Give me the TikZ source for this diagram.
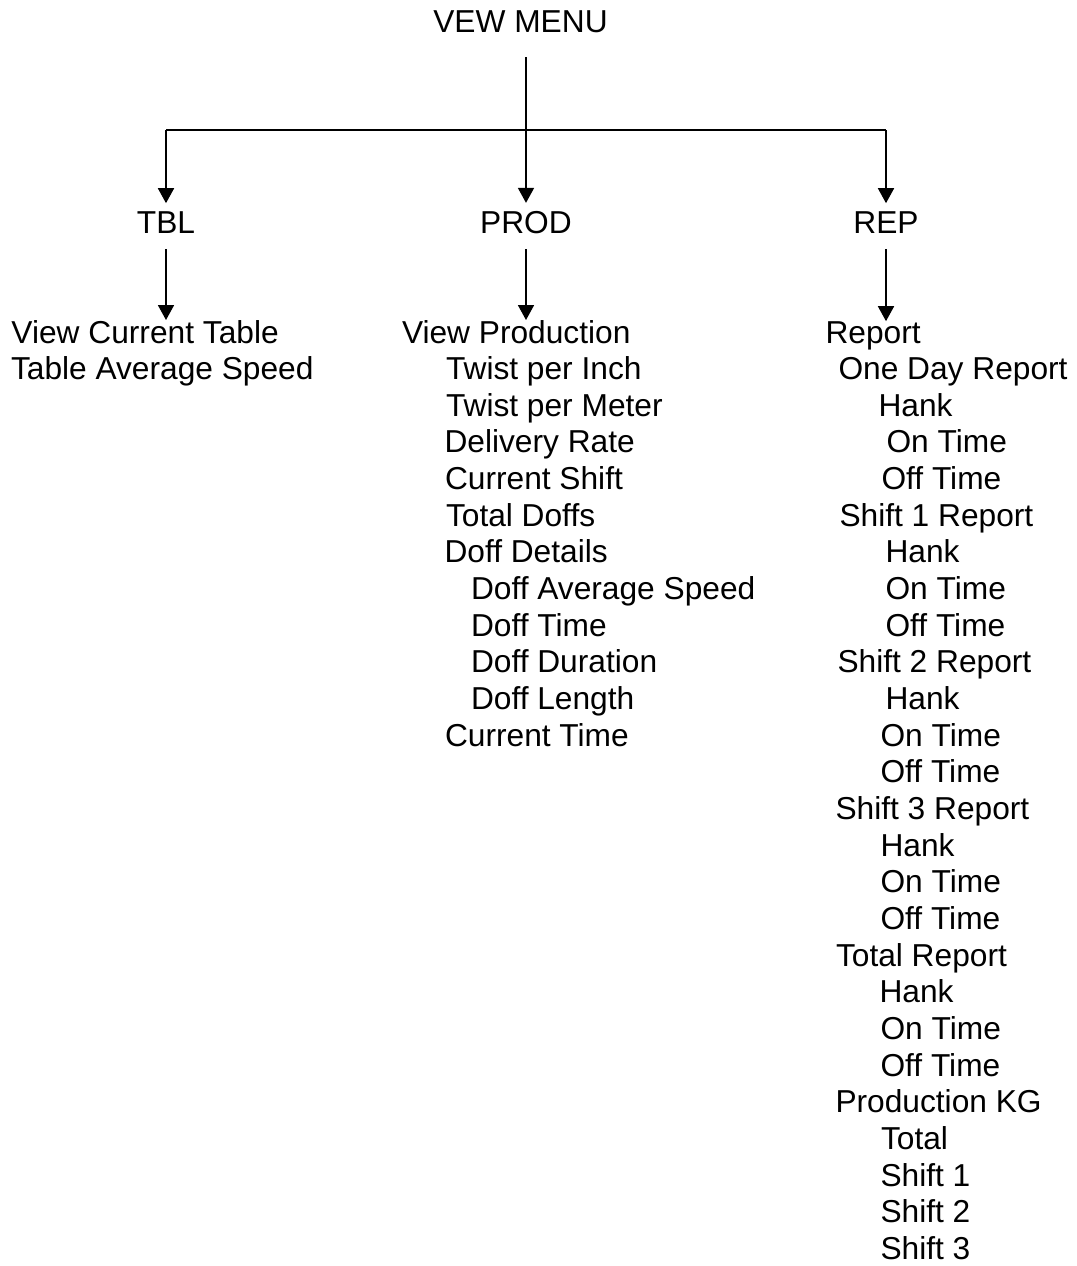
\documentclass[tikz,border=0pt]{standalone}
\usepackage{fontspec}
\setmainfont{Liberation Sans}
\usetikzlibrary{arrows.meta}
\tikzset{
  txt/.style={font=\fontsize{31.7pt}{38pt}\selectfont, inner sep=0pt, outer sep=0pt, anchor=base west},
  head/.style={font=\fontsize{31.7pt}{38pt}\selectfont, inner sep=0pt, outer sep=0pt, anchor=base},
  conn/.style={line width=1.7pt},
  arr/.style={conn, -{Triangle[length=15pt,width=16pt]}}
}
\begin{document}
\begin{tikzpicture}[x=1pt,y=-1pt]
\useasboundingbox (0,0) rectangle (1076,1266);
% headings
\node[head] (menu) at (520.5,32) {VEW MENU};
\node[head] (tbl) at (166,233) {TBL};
\node[head] (prod) at (526,233) {PROD};
\node[head] (rep) at (886,233) {REP};
% left column
\foreach \x/\t [count=\i from 0] in {11.5/View Current Table, 11/Table Average Speed}
  \node[txt] (L\i) at (\x,343+36.66*\i) {\t};
% middle column
\foreach \x/\t [count=\i from 0] in {402/View Production, 446/Twist per Inch, 446/Twist per Meter,
  444.5/Delivery Rate, 445/Current Shift, 446/Total Doffs, 444.5/Doff Details,
  471/Doff Average Speed, 471/Doff Time, 471/Doff Duration, 471/Doff Length, 445/Current Time}
  \node[txt] (M\i) at (\x,343+36.66*\i) {\t};
% right column
\foreach \x/\t [count=\i from 0] in {825.5/Report, 838.5/One Day Report, 878.5/Hank, 886.5/On Time, 881.5/Off Time,
  839.5/Shift 1 Report, 885.5/Hank, 885.5/On Time, 885.5/Off Time,
  837.5/Shift 2 Report, 885.5/Hank, 880.5/On Time, 880.5/Off Time,
  835.5/Shift 3 Report, 880.5/Hank, 880.5/On Time, 880.5/Off Time,
  836/Total Report, 879.5/Hank, 880.5/On Time, 880.5/Off Time,
  835.5/Production KG, 881/Total, 880.5/Shift 1, 880.5/Shift 2, 880.5/Shift 3}
  \node[txt] (R\i) at (\x,343+36.66*\i) {\t};
% connectors
\coordinate (top) at (526,57);
\coordinate (hl) at (166,130);
\coordinate (hr) at (886,130);
\draw[conn] (hl) -- (hr);
\draw[arr] (top) -- ([yshift=8pt]prod.north);
\draw[arr] (hl) -- ([yshift=8pt]tbl.north);
\draw[arr] (hr) -- ([yshift=8pt]rep.north);
\draw[arr, shorten <=16pt] (tbl.south) -- (tbl.south |- L0.north);
\draw[arr, shorten <=16pt] (prod.south) -- (prod.south |- M0.north);
\draw[arr, shorten <=16pt] (rep.south) -- (rep.south |- R0.north);
\end{tikzpicture}
\end{document}
